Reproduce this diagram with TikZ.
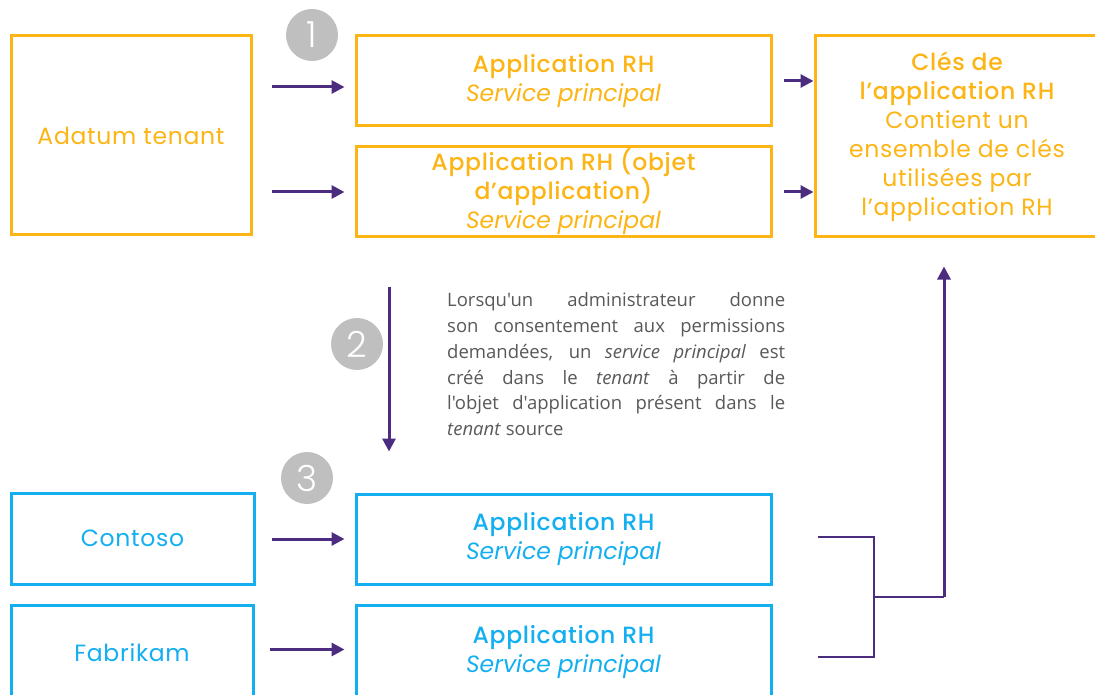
\documentclass[tikz,border=0pt]{standalone}
\usepackage{fontspec}
\setmainfont{Poppins}[UprightFeatures={LetterSpace=3}]
\newfontfamily\tfont{Poppins Medium}[LetterSpace=3]
\newfontfamily\nfont{Poppins Light}
\newfontfamily\parafont{Open Sans}[Ligatures=TeXOff, HyphenChar=None]
\usetikzlibrary{arrows.meta}
\definecolor{orng}{HTML}{FDB515}
\definecolor{blu}{HTML}{14AFF0}
\definecolor{purp}{HTML}{4B2C7F}
\definecolor{grayc}{HTML}{BFBFBF}
\definecolor{txtgray}{HTML}{595959}
\begin{document}
\begin{tikzpicture}[x=1pt,y=-1pt,
  box/.style={draw, line width=3pt, align=center, inner sep=0pt, minimum width=415pt, minimum height=90pt, font=\fontsize{23.5}{29}\selectfont},
  obox/.style={box, draw=orng, text=orng},
  bbox/.style={box, draw=blu, text=blu},
  arr/.style={draw=purp, line width=3pt, -{Triangle[length=13pt,width=13pt]}},
  bracket/.style={draw=purp, line width=2pt},
  num/.style={circle, fill=grayc, text=white, minimum size=52pt, inner sep=0pt, font=\nfont\fontsize{36}{36}\selectfont}]
\path[use as bounding box, clip] (0,0) rectangle (1095,695);
\fill[white] (0,0) rectangle (1095,695);
% boxes
\node[obox, minimum width=240pt, minimum height=199pt] (adatum) at (131,135.5) {Adatum tenant};
\node[obox] (app1) at (563.5,81) {{\tfont Application RH}\\\textit{Service principal}};
\node[obox] (app2) at (563.5,192) {{\tfont Application RH (objet}\\{\tfont d’application)}\\\textit{Service principal}};
\node[obox, minimum width=284pt, minimum height=201pt] (cles) at (957,136.5) {{\tfont Clés de}\\{\tfont l’application RH}\\Contient un\\ensemble de clés\\utilisées par\\l’application RH};
\node[bbox, minimum width=243pt, minimum height=91pt] (contoso) at (132.5,538.5) {Contoso};
\node[bbox, minimum width=242pt, minimum height=95pt] (fabrikam) at (132,652.5) {Fabrikam};
\node[bbox] (app3) at (563.5,539) {{\tfont Application RH}\\\textit{Service principal}};
\node[bbox, minimum height=95pt] (app4) at (563.5,652.5) {{\tfont Application RH}\\\textit{Service principal}};
% numbers
\node[num] (n1) at (312,35) {1};
\node[num] (n2) at (357,344) {2};
\node[num] (n3) at (307,478) {3};
% paragraph
\node[anchor=north west, text width=338pt, align=justify, text=txtgray, inner sep=0pt,
  font=\parafont\fontsize{18.5}{25.8}\selectfont] (para) at (447,292.5)
  {Lorsqu'un administrateur donne\linebreak son consentement aux permissions\linebreak demandées, un \textit{service principal} est\linebreak créé dans le \textit{tenant} à partir de\linebreak l'objet d'application présent dans le\linebreak \textit{tenant} source};
% arrows
\coordinate (t1) at ([yshift=-6pt]app1.west);
\draw[arr, shorten <=19pt, shorten >=10pt] (adatum.east |- t1) -- (t1);
\draw[arr, shorten <=19pt, shorten >=10pt] (adatum.east |- app2.west) -- (app2.west);
\draw[arr, shorten <=11pt] (app1.east) -- (cles.west |- app1.east);
\draw[arr, shorten <=11pt] (app2.east) -- (cles.west |- app2.east);
\coordinate (v) at (389,0);
\draw[arr, shorten <=48pt, shorten >=41pt] (app2.south -| v) -- (app3.north -| v);
\draw[arr, shorten <=16pt, shorten >=10pt] (contoso.east |- app3.west) -- (app3.west);
\coordinate (t4) at ([yshift=3pt]app4.west);
\draw[arr, shorten <=15pt, shorten >=10pt] (fabrikam.east |- t4) -- (t4);
% bracket
\coordinate (b1) at (818,537);
\coordinate (b2) at (818,657);
\coordinate (j) at (874,597);
\coordinate (k) at (944,597);
\draw[bracket] (b1) -| (j) |- (b2);
\draw[bracket] (j) -- (k);
\draw[arr, shorten >=28pt] (k) -- (cles.south -| k);
\end{tikzpicture}
\end{document}
